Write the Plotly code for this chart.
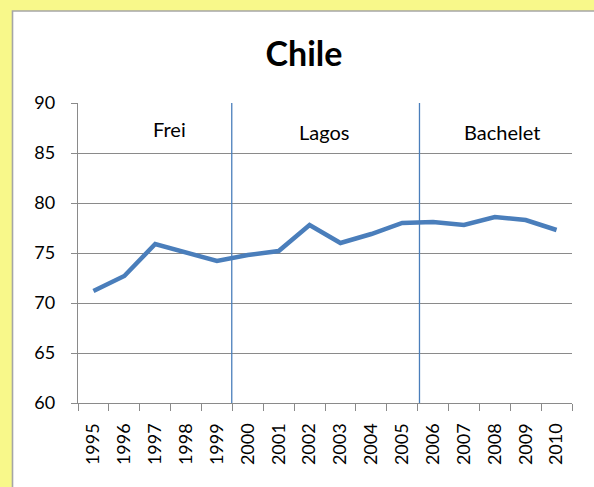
import plotly.graph_objects as go

years = [str(y) for y in range(1995, 2011)]
values = [71.2, 72.7, 75.9, 75.0, 74.2, 74.8, 75.2, 77.8, 76.0, 76.9, 78.0, 78.1, 77.8, 78.6, 78.3, 77.3]

presidents = ["Frei", "Lagos", "Bachelet"]
president_x = [2.45, 7.46, 13.23]
president_y = [87.4, 87.1, 87.1]
term_boundaries = [4.48, 10.56]

y_ticks = [60, 65, 70, 75, 80, 85, 90]

FONT = "Lato"
BLUE = "#4A7EBB"
GRID = "#8A8A8A"

fig = go.Figure()
fig.add_trace(go.Scatter(
    x=years, y=values, mode="lines",
    line=dict(color=BLUE, width=4.5),
    hoverinfo="x+y", showlegend=False,
))

# white chart panel on the yellow page
fig.add_shape(type="rect", xref="paper", yref="paper",
              x0=(12.5 - 78) / 494, x1=1.2, y0=-0.4, y1=1 + (103 - 11) / 300,
              fillcolor="white", line=dict(color="#A6A6A6", width=1.6), layer="below")

for b in term_boundaries:
    fig.add_shape(type="line", xref="x", yref="y", x0=b, x1=b, y0=60, y1=90.35,
                  line=dict(color=BLUE, width=1.3))

for name, px, py in zip(presidents, president_x, president_y):
    fig.add_annotation(x=px, y=py, xref="x", yref="y", text=name, showarrow=False,
                       font=dict(family=FONT, size=20, color="black"),
                       xanchor="center", yanchor="middle")

fig.update_layout(
    width=594, height=487,
    margin=dict(l=78, r=22, t=103, b=84),
    paper_bgcolor="#F8F88A",
    plot_bgcolor="rgba(0,0,0,0)",
    title=dict(text="<b>Chile</b>", x=304 / 594, y=1 - 54 / 487,
               xanchor="center", yanchor="middle",
               font=dict(family=FONT, size=34, color="black")),
    font=dict(family=FONT, color="black"),
)

fig.update_xaxes(
    type="category", range=[-0.5, 15.5],
    showgrid=False, showline=True, linecolor=GRID, linewidth=1.3,
    ticks="outside", tickson="boundaries", ticklen=7, tickcolor=GRID, tickwidth=1.3,
    tickangle=-90, tickfont=dict(family=FONT, size=18, color="black"),
    ticklabelstandoff=12,
)
fig.update_yaxes(
    range=[60, 90], tickvals=y_ticks,
    showgrid=True, gridcolor=GRID, gridwidth=1.3, zeroline=False,
    showline=True, linecolor=GRID, linewidth=1.3,
    ticks="outside", ticklen=6, tickcolor=GRID, tickwidth=1.3,
    tickfont=dict(family=FONT, size=18, color="black"),
    ticklabelstandoff=12,
)

fig.write_html(
    "out.html",
    config={"displayModeBar": False},
    post_script="document.body.style.margin='0';document.documentElement.style.overflow='hidden';",
)
